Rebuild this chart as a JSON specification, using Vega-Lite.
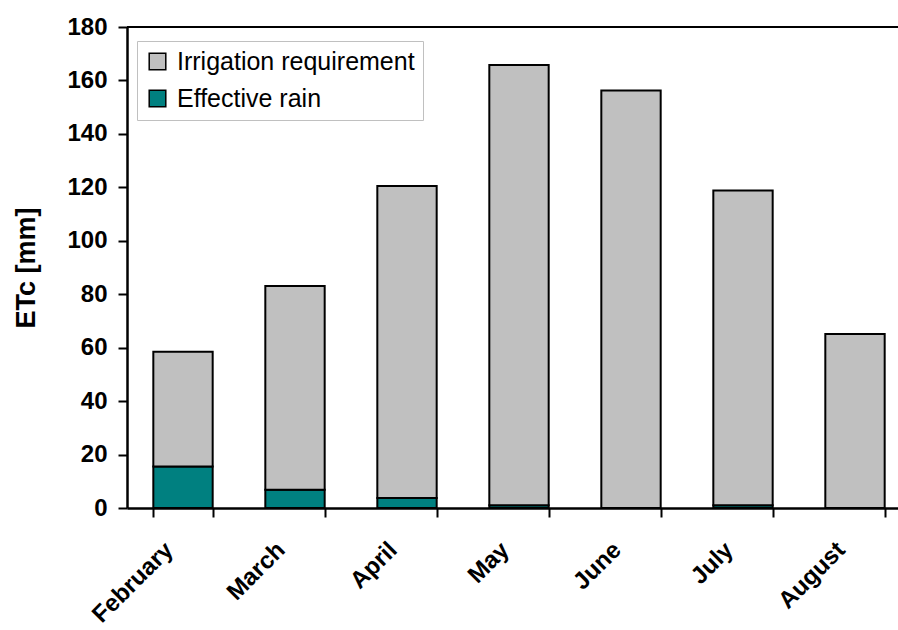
{
  "$schema": "https://vega.github.io/schema/vega-lite/v6.json",
  "autosize": {"type": "none"},
  "width": 771,
  "height": 481,
  "padding": {"left": 127, "top": 27, "right": 0, "bottom": 122},
  "background": "white",
  "config": {
    "view": {"stroke": null},
    "font": "Liberation Sans",
    "axis": {"domainColor": "black", "tickColor": "black", "labelColor": "black", "titleColor": "black", "grid": false, "labelFont": "Liberation Sans", "titleFont": "Liberation Sans"}
  },
  "datasets": {
    "bars": [
      {"month": "February", "series": "Effective rain", "value": 15.5},
      {"month": "February", "series": "Irrigation requirement", "value": 43.0},
      {"month": "March", "series": "Effective rain", "value": 6.8},
      {"month": "March", "series": "Irrigation requirement", "value": 76.3},
      {"month": "April", "series": "Effective rain", "value": 3.7},
      {"month": "April", "series": "Irrigation requirement", "value": 116.8},
      {"month": "May", "series": "Effective rain", "value": 1.0},
      {"month": "May", "series": "Irrigation requirement", "value": 164.8},
      {"month": "June", "series": "Effective rain", "value": 0.0},
      {"month": "June", "series": "Irrigation requirement", "value": 156.2},
      {"month": "July", "series": "Effective rain", "value": 1.0},
      {"month": "July", "series": "Irrigation requirement", "value": 117.8},
      {"month": "August", "series": "Effective rain", "value": 0.0},
      {"month": "August", "series": "Irrigation requirement", "value": 65.1}
    ]
  },
  "layer": [
    {
      "data": {"name": "bars"},
      "mark": {"type": "bar", "stroke": "black", "strokeWidth": 2},
      "encoding": {
        "x": {
          "field": "month",
          "type": "nominal",
          "sort": ["February", "March", "April", "May", "June", "July", "August"],
          "scale": {"range": [0, 784], "paddingInner": 0.47, "paddingOuter": 0.235},
          "axis": {
            "title": null,
            "labelAngle": -45,
            "labelAlign": "right",
            "labelBaseline": "middle",
            "labelFontSize": 24,
            "labelFontWeight": "bold",
            "labelPadding": 29,
            "labelOffset": -14,
            "labelLimit": 300,
            "tickBand": "extent",
            "tickSize": 9,
            "tickWidth": 2,
            "domainWidth": 2.5
          }
        },
        "y": {
          "field": "value",
          "type": "quantitative",
          "stack": "zero",
          "scale": {"domain": [0, 180], "nice": false},
          "axis": {
            "title": "ETc [mm]",
            "titleFontSize": 27,
            "titleFontWeight": "bold",
            "titlePadding": 26,
            "values": [0, 20, 40, 60, 80, 100, 120, 140, 160, 180],
            "labelFontSize": 24,
            "labelFontWeight": "bold",
            "labelPadding": 11,
            "tickSize": 9,
            "tickWidth": 2,
            "domainWidth": 2.5
          }
        },
        "color": {
          "field": "series",
          "type": "nominal",
          "scale": {"domain": ["Irrigation requirement", "Effective rain"], "range": ["#C0C0C0", "#008080"]},
          "legend": {
            "title": null,
            "orient": "none",
            "legendX": 10,
            "legendY": 14,
            "labelFontSize": 25,
            "labelFont": "Liberation Sans",
            "labelColor": "black",
            "labelLimit": 400,
            "symbolType": "square",
            "symbolSize": 275,
            "symbolStrokeColor": "black",
            "symbolStrokeWidth": 1.5,
            "symbolOpacity": 1,
            "rowPadding": 11,
            "labelOffset": 7,
            "padding": 8,
            "strokeColor": "#c0c0c0",
            "fillColor": "white"
          }
        },
        "order": {"field": "series", "sort": "ascending"}
      }
    },
    {
      "data": {"values": [{"top": 180}]},
      "mark": {"type": "rule", "color": "black", "strokeWidth": 2},
      "encoding": {"y": {"field": "top", "type": "quantitative"}}
    }
  ]
}
